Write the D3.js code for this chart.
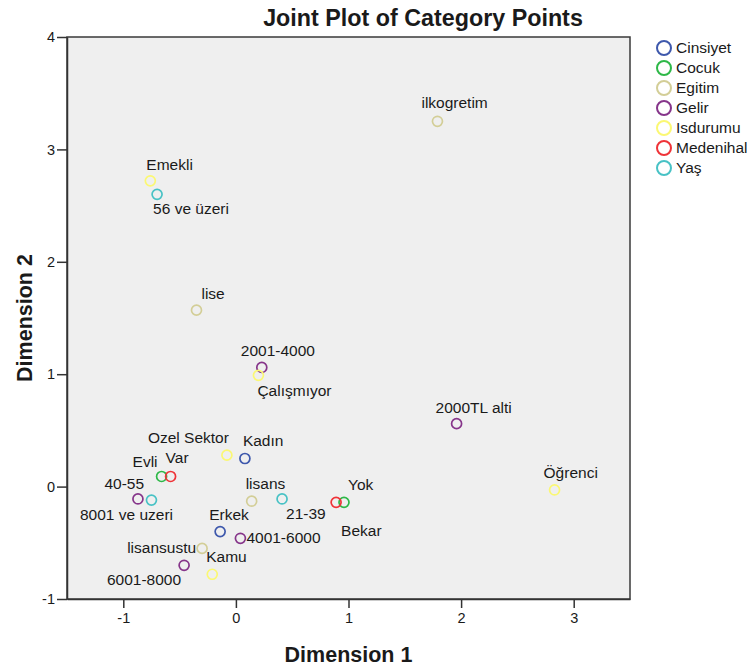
<!DOCTYPE html>
<html>
<head>
<meta charset="utf-8">
<script src="https://cdn.jsdelivr.net/npm/d3@7"></script>
<style>
  body { margin: 0; background: #fff; }
  text { font-family: "Liberation Sans", Arial, sans-serif; fill: #1a1a1a; }
  .axis path, .axis line { stroke: #333; stroke-width: 1.5; }
  .axis text { font-size: 14.5px; fill: #1a1a1a; }
</style>
</head>
<body>
<div id="chart"></div>
<script>
// category groups (legend order)
var groups = ["Cinsiyet", "Cocuk", "Egitim", "Gelir", "Isdurumu", "Medenihal", "Yaş"];
var groupColors = ["#3e58ac", "#2eb848", "#d3ce97", "#86358a", "#fbf873", "#ef3338", "#48c2c5"];

// category points
var pointLabels = ["Emekli", "56 ve üzeri", "ilkogretim", "lise", "2001-4000", "Çalışmıyor",
  "2000TL alti", "Öğrenci", "Ozel Sektor", "Kadın", "Var", "Evli", "40-55", "8001 ve uzeri",
  "lisans", "21-39", "Yok", "Bekar", "Erkek", "4001-6000", "lisansustu", "Kamu", "6001-8000"];
var pointGroups = ["Isdurumu", "Yaş", "Egitim", "Egitim", "Gelir", "Isdurumu",
  "Gelir", "Isdurumu", "Isdurumu", "Cinsiyet", "Cocuk", "Medenihal", "Yaş", "Gelir",
  "Egitim", "Yaş", "Cocuk", "Medenihal", "Cinsiyet", "Gelir", "Egitim", "Isdurumu", "Gelir"];
var dim1 = [-0.76, -0.70, 1.79, -0.35, 0.23, 0.20,
  1.96, 2.83, -0.08, 0.08, -0.66, -0.58, -0.75, -0.87,
  0.14, 0.41, 0.96, 0.89, -0.14, 0.04, -0.30, -0.21, -0.46];
var dim2 = [2.72, 2.60, 3.25, 1.57, 1.06, 0.99,
  0.56, -0.03, 0.28, 0.25, 0.09, 0.09, -0.12, -0.11,
  -0.13, -0.11, -0.14, -0.14, -0.40, -0.46, -0.55, -0.78, -0.70];

var xTicks = [-1, 0, 1, 2, 3];
var yTicks = [-1, 0, 1, 2, 3, 4];

// where each label sits relative to its point: [dx, dy, anchor]
var labelPlace = {
  "Emekli": [-4, -11, "start"], "56 ve üzeri": [-4, 20, "start"],
  "ilkogretim": [-16, -13, "start"], "lise": [5, -11, "start"],
  "2001-4000": [-21, -11, "start"], "Çalışmıyor": [-1, 21, "start"],
  "2000TL alti": [-21, -11, "start"], "Öğrenci": [-11, -12, "start"],
  "Ozel Sektor": [2, -12, "end"], "Kadın": [-2, -13, "start"],
  "Var": [4, -13, "start"], "Evli": [-38, -9, "start"],
  "40-55": [-47, -11, "start"], "8001 ve uzeri": [-58, 21, "start"],
  "lisans": [-6, -12, "start"], "21-39": [4, 20, "start"],
  "Yok": [4, -12, "start"], "Bekar": [5, 34, "start"],
  "Erkek": [-11, -12, "start"], "4001-6000": [6, 5, "start"],
  "lisansustu": [-6, 5, "end"], "Kamu": [-6, -12, "start"],
  "6001-8000": [-3, 20, "end"]
};

var margin = { top: 37, left: 67 },
  width = 563,
  height = 562;

var data = pointLabels.map(function (d, i) {
  return { label: d, group: pointGroups[i], x: dim1[i], y: dim2[i] };
});

var color = d3.scaleOrdinal().domain(groups).range(groupColors);
var x = d3.scaleLinear().domain([-1.5, 3.5]).range([0, width]);
var y = d3.scaleLinear().domain([-1, 4]).range([height, 0]);

// plain hyphen for negatives, like the original
var fmt = function (d) { return String(d); };

var svg = d3.select("#chart")
  .append("svg")
  .attr("width", 747)
  .attr("height", 668);

var g = svg.append("g")
  .attr("transform", "translate(" + margin.left + "," + margin.top + ")");

g.append("rect")
  .attr("width", width)
  .attr("height", height)
  .attr("fill", "#efefef")
  .attr("stroke", "#3a3a3a")
  .attr("stroke-width", 1.5);

// axes
g.append("g")
  .attr("class", "axis")
  .attr("transform", "translate(0," + height + ")")
  .call(d3.axisBottom(x).tickValues(xTicks).tickFormat(fmt).tickSize(9).tickPadding(5).tickSizeOuter(0));

g.append("g")
  .attr("class", "axis")
  .call(d3.axisLeft(y).tickValues(yTicks).tickFormat(fmt).tickSize(10).tickPadding(2).tickSizeOuter(0));

g.selectAll(".axis").attr("font-size", null).attr("font-family", null);

// points
g.selectAll("circle.pt")
  .data(data)
  .enter()
  .append("circle")
  .attr("class", "pt")
  .attr("cx", function (d) { return x(d.x); })
  .attr("cy", function (d) { return y(d.y); })
  .attr("r", 5)
  .attr("fill", "none")
  .attr("stroke", function (d) { return color(d.group); })
  .attr("stroke-width", 1.7);

g.selectAll("text.lbl")
  .data(data)
  .enter()
  .append("text")
  .attr("class", "lbl")
  .attr("x", function (d) { return x(d.x) + labelPlace[d.label][0]; })
  .attr("y", function (d) { return y(d.y) + labelPlace[d.label][1]; })
  .attr("text-anchor", function (d) { return labelPlace[d.label][2]; })
  .style("font-size", "15.5px")
  .text(function (d) { return d.label; });

// title and axis titles
svg.append("text")
  .attr("x", 423)
  .attr("y", 26)
  .attr("text-anchor", "middle")
  .style("font-size", "23.3px")
  .style("font-weight", "bold")
  .text("Joint Plot of Category Points");

svg.append("text")
  .attr("x", margin.left + width / 2)
  .attr("y", 662)
  .attr("text-anchor", "middle")
  .style("font-size", "21.5px")
  .style("font-weight", "bold")
  .text("Dimension 1");

svg.append("text")
  .attr("transform", "translate(32," + (margin.top + height / 2) + ") rotate(-90)")
  .attr("text-anchor", "middle")
  .style("font-size", "21.5px")
  .style("font-weight", "bold")
  .text("Dimension 2");

// legend
var legend = svg.selectAll(".legend")
  .data(groups)
  .enter()
  .append("g")
  .attr("class", "legend")
  .attr("transform", function (d, i) {
    return "translate(664," + (48 + i * 20) + ")";
  });

legend.append("circle")
  .attr("r", 7)
  .attr("fill", "none")
  .attr("stroke", function (d) { return color(d); })
  .attr("stroke-width", 2);

legend.append("text")
  .attr("x", 12)
  .attr("y", 5)
  .style("font-size", "15.5px")
  .text(function (d) { return d; });
</script>
</body>
</html>
